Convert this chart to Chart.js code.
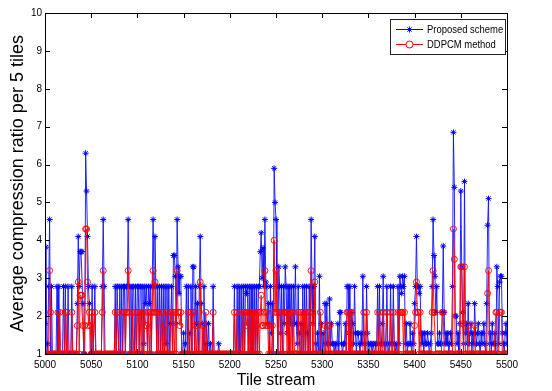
<!DOCTYPE html>
<html>
<head>
<meta charset="utf-8">
<script src="https://cdn.jsdelivr.net/npm/chart.js@4"></script>
<style>
html,body{margin:0;padding:0;background:#fff;}
#wrap{position:relative;width:552px;height:391px;}
</style>
</head>
<body>
<div id="wrap"><canvas id="c" width="552" height="391"></canvas></div>
<script>
// Tile stream start (x categories run 5000..5500)
const startTile = 5000;
const xTicks = [5000,5050,5100,5150,5200,5250,5300,5350,5400,5450,5500];
const yTicks = [1,2,3,4,5,6,7,8,9,10];
const seriesNames = ["Proposed scheme","DDPCM method"];

const proposed = [
1.8,3.82,1,1.27,2.78,4.55,1,2.78,1,1,1,1,1,2.78,1,2.78,1,1,1,1,
2.78,1,2.78,1,1,2.78,1,1,1,2.78,1,1,1,1,1,2.33,4.1,2.78,3.7,3.7,
3.7,2.33,1,1,6.3,5.3,4.1,2.78,2.33,1,1,2.78,1,1,2.78,1,1,1,1,1,
1,1,2.78,4.55,2.78,1,1,1,1,1,1,1,1,1,1,1,2.78,1,2.78,2.78,
1,2.78,1,2.78,1,2.78,2.78,1,2.78,2.78,4.55,2.78,1,2.78,1,2.78,2.78,1,2.78,1,
2.78,2.78,1,2.78,2.78,1,2.78,1.27,2.78,2.33,2.78,1,2.78,2.33,2.78,1,2.78,4.55,2.78,4.1,
2.78,1,2.78,1,2.78,1,2.78,1,2.78,1,2.78,1.27,2.78,1,2.78,1,1.8,2.78,1,3.6,
3.6,3.05,1.8,4.55,3.3,2.6,3.05,3.05,1,1,1.55,1,1.27,2.78,1,2.78,1,1.55,2.78,1,
3.3,3.3,1,2.78,1.8,2.33,1,2.78,4.1,2.33,1.8,1,2.78,1.27,1,1.8,1,1.8,1,1.27,
1,1,2.78,1,1,1,1,1,1.27,1,1,1,1,1,1,1,1,1,1,1,
1,1,1,1,1,2.78,1,1,2.78,1,2.78,1,1,2.78,1,2.78,1,2.78,2.6,2.78,
1,2.78,1,2.78,1,2.78,1,2.78,1,2.78,1,2.78,2.78,3.7,4.2,3.0,3.8,2.78,4.55,2.9,
2.78,1.8,2.33,1,2.78,1.55,2.33,1,5.9,5.0,4.55,2.78,1,3.3,2.78,1.55,2.78,1,2.78,1.8,
3.3,2.78,1.55,2.78,1,2.78,1.8,2.78,1,2.78,1.8,3.3,1.8,1.27,2.78,1.55,1,1.8,1,2.78,
1,2.78,1,2.78,1.55,1,2.78,1,4.55,2.78,1.8,2.78,4.1,1.27,1,1.55,1,3.05,1,1.8,
1,1.55,1,2.33,1.27,2.33,1.27,1,2.45,1.27,1.8,1.27,1.27,1,1.27,1,1.27,1.8,1,2.1,
2.1,1.27,1,1.27,1.27,1.8,1,2.78,2.78,1.55,2.78,1,2.1,1.8,1.27,2.78,1.55,1,1.55,1.55,
1.27,1,1.55,1.27,3.05,1.55,1.27,1,2.78,1.55,1.27,1,1.27,1.27,1,1.27,1.27,1,1.27,1.27,
2.78,1.27,2.78,1,1.27,1.8,3.05,1.27,1,1.27,2.78,1.27,1,1.27,2.78,1.27,1.27,2.78,1.27,1,
1.27,1,2.78,1.27,3.05,2.78,2.6,3.05,2.78,3.05,1.27,1.8,1,1.27,1.27,1.8,1.27,1,1.55,1.27,
2.33,2.78,4.1,2.78,2.78,2.6,2.78,1.55,1.27,1.55,1,1.55,1.27,1.27,1.55,1.27,1,1.27,1.55,2.78,
4.55,3.6,3.05,2.1,2.78,1.27,1.27,1.55,1.27,1.27,2.1,3.85,2.1,1.27,1.55,1.27,1.55,1,1.27,1.55,
1.27,2.78,6.85,5.4,2.0,2.0,1.27,1.55,1,1.8,5.3,3.3,2.1,1.27,5.55,1.55,1.8,1.27,2.33,1.27,
1.55,1.8,1,1.55,1.27,2.33,1.55,1.27,1.55,1.8,1.27,1,1.55,1.27,1.55,1.8,1.27,1,2.33,4.4,
5.1,1.27,1.55,1,1.8,1.27,1.27,1.55,1,3.3,2.78,1.27,2.9,3.05,3.05,1.55,1.27,1,1.55,1.8,
1.27
];

const ddpcm = [
1,1,1,1,1,3.2,2.1,1,1,1,1,1,1,1,2.1,1,2.1,1,1,1,
1,1,2.1,1,2.1,1,1,1,1,2.1,1,1,1,1,1,1.75,2.9,1,2.55,2.55,
2.55,1.75,1,1.75,4.3,4.3,2.9,1.75,2.1,1.75,1,2.1,1,1,2.1,1,1,1,1,1,
1,1,2.1,3.2,1,1,1,1,1,1,1,1,1,1,1,1,2.1,1,2.1,2.1,
1,1,1,1,1,2.1,2.1,1,2.1,2.1,3.2,2.1,1,1,1,2.1,1,1,2.1,1,
2.1,2.1,1,2.1,1,1,2.1,1,2.1,1.75,1.75,1,2.1,1,2.1,1,2.1,3.2,2.1,2.9,
2.1,1,2.1,1,1,1,2.1,1,2.1,1,1.75,1,2.1,1,1,1,2.1,2.1,1,2.1,
1,2.1,1,3.2,2.1,2.1,1.75,2.1,1,1,1,1,1,1,1,2.1,1,1,2.1,1,
2.1,2.1,1,1.75,1,1.75,1,1,2.9,1,1,1.75,1,1,2.1,1,1,1,1,1,
1,1,2.1,1,1,1,1,1,1,1,1,1,1,1,1,1,1,1,1,1,
1,1,1,1,1,2.1,1,1,2.1,1,1,1,1,2.1,1,2.1,1,2.1,1.75,2.1,
1,2.1,1,2.1,1,2.1,1,2.1,1,2.1,1,2.1,1,2.1,2.55,1.75,1.75,2.1,3.2,1.75,
2.1,1.75,1,1.75,1,1,1.75,1,4.0,2.1,3.2,2.1,1,2.1,2.1,1,2.1,1,1,2.1,
2.1,2.1,1,2.1,1,2.1,1,2.1,1,2.1,1,1,1,1,2.1,1,1,2.1,1,2.1,
1,2.1,1,2.1,1,1,2.1,1,3.2,2.1,1,1,2.9,1,1,1,1,1,2.1,1,
1,1,1,1.75,1,1,1.75,1,1.75,1,1,1,1,1,1,1,1,1,1,1,
1,1,1,1,1,1,1,2.1,2.1,1,2.1,1,2.1,1,1,1,1,1,1,1,
1,1,1,1,1,2.1,1,1,2.1,1,1,1,1,1,1,1,1,1,1,1,
2.1,1,2.1,1,1,1,2.1,1,1,1,2.1,1,1,1,2.1,1,1,2.1,1,1,
1,1,2.1,1,2.1,2.1,2.1,2.1,1,2.1,1,1,1,1,1,1,1,1,1,1,
1.75,2.1,2.9,2.1,2.1,1,2.1,1,1,1,1,1,1,1,1,1,1,1,1,2.1,
3.2,2.1,2.1,1,1,1,1,1,1,1,2.1,2.1,1,1,1,1,1,1,1,1,
1,1,4.3,3.5,1,1,1,1,1,1,3.3,3.3,1.8,1,3.3,1,1,1,1.75,1,
1,1,1,1,1,1.75,1,1,1,1,1,1,1,1,1,1,1,1,1,2.6,
3.2,1,1,1,1,1,1,1,2.1,2.1,1,1,2.1,2.1,2.1,1,1,1,1,1,
1
];

const toPts = arr => arr.map((v, i) => ({x: startTile + i, y: v}));

const FONT = "'Liberation Sans', Arial, sans-serif";

const framePlugin = {
  id: 'frame',
  afterDraw(chart) {
    const ctx = chart.ctx;
    const a = chart.chartArea;
    const xs = chart.scales.x, ys = chart.scales.y;
    ctx.save();
    ctx.strokeStyle = '#000';
    ctx.lineWidth = 1;
    ctx.beginPath();
    ctx.rect(Math.round(a.left) + 0.5, Math.round(a.top) + 0.5, Math.round(a.right - a.left), Math.round(a.bottom - a.top));
    ctx.stroke();
    const tl = 5;
    ctx.beginPath();
    xTicks.forEach(t => {
      const px = Math.round(xs.getPixelForValue(t)) + 0.5;
      ctx.moveTo(px, a.bottom); ctx.lineTo(px, a.bottom - tl);
      ctx.moveTo(px, a.top); ctx.lineTo(px, a.top + tl);
    });
    yTicks.forEach(t => {
      const py = Math.round(ys.getPixelForValue(t)) + 0.5;
      ctx.moveTo(a.left, py); ctx.lineTo(a.left + tl, py);
      ctx.moveTo(a.right, py); ctx.lineTo(a.right - tl, py);
    });
    ctx.stroke();

    // legend box (MATLAB style, inside plot)
    const lx = 390, ly = 19, lw = 115, lh = 35;
    ctx.fillStyle = '#fff';
    ctx.fillRect(lx, ly, lw, lh);
    ctx.strokeStyle = '#222';
    ctx.strokeRect(lx + 0.5, ly + 0.5, lw, lh);
    const rows = [
      {y: 29, color: '#0000ff', style: 'star', r: 3},
      {y: 44, color: '#ff0000', style: 'circle', r: 3.5}
    ];
    rows.forEach((row, k) => {
      ctx.strokeStyle = row.color;
      ctx.lineWidth = 1;
      ctx.beginPath();
      ctx.moveTo(396, row.y + 0.5); ctx.lineTo(423, row.y + 0.5);
      ctx.stroke();
      ctx.fillStyle = row.style === 'circle' ? '#ffffff' : row.color;
      Chart.helpers.drawPoint(ctx, {pointStyle: row.style, radius: row.r, borderWidth: 1, rotation: 0}, 409.5, row.y + 0.5);
      ctx.save();
      ctx.translate(427, row.y + 1);
      ctx.scale(0.86, 1);
      ctx.font = '11px ' + FONT;
      ctx.textBaseline = 'middle';
      ctx.textAlign = 'left';
      ctx.fillStyle = '#000';
      ctx.fillText(seriesNames[k], 0, 0);
      ctx.restore();
    });
    ctx.restore();
  }
};

new Chart(document.getElementById('c'), {
  type: 'line',
  data: {
    datasets: [
      {
        label: seriesNames[0],
        data: toPts(proposed),
        borderColor: '#1010ff',
        borderWidth: 0.9,
        pointStyle: 'star',
        pointRadius: 3,
        pointBorderColor: '#0000ff',
        pointBorderWidth: 1,
        pointBackgroundColor: '#0000ff',
        tension: 0,
        order: 1
      },
      {
        label: seriesNames[1],
        data: toPts(ddpcm),
        borderColor: '#ff0000',
        borderWidth: 0.9,
        pointStyle: 'circle',
        pointRadius: 3,
        pointBorderColor: '#ff0000',
        pointBorderWidth: 0.9,
        pointBackgroundColor: 'rgba(0,0,0,0)',
        tension: 0,
        order: 0
      }
    ]
  },
  options: {
    responsive: false,
    animation: false,
    devicePixelRatio: 1,
    layout: {padding: {top: 13, right: 45, left: 0, bottom: 0}},
    plugins: {legend: {display: false}, tooltip: {enabled: false}},
    scales: {
      x: {
        type: 'linear', min: 5000, max: 5500,
        grid: {display: false, drawTicks: false},
        border: {display: false},
        afterFit: s => { s.height = 37; },
        afterBuildTicks: s => { s.ticks = xTicks.map(v => ({value: v})); },
        ticks: {color: '#000', font: {size: 10, family: FONT}, padding: 5, maxRotation: 0, autoSkip: false, callback: v => String(v)},
        title: {display: true, text: 'Tile stream', color: '#000', font: {size: 16, family: FONT}, padding: {top: 0, bottom: 1}}
      },
      y: {
        min: 1, max: 10,
        grid: {display: false, drawTicks: false},
        border: {display: false},
        afterFit: s => { s.width = 45; },
        afterBuildTicks: s => { s.ticks = yTicks.map(v => ({value: v})); },
        ticks: {color: '#000', font: {size: 10, family: FONT}, padding: 3, callback: v => String(v)},
        title: {display: true, text: 'Average compression ratio per 5 tiles', color: '#000', font: {size: 18, family: FONT}, padding: {top: 7, bottom: 0}}
      }
    }
  },
  plugins: [framePlugin]
});
</script>
</body>
</html>
